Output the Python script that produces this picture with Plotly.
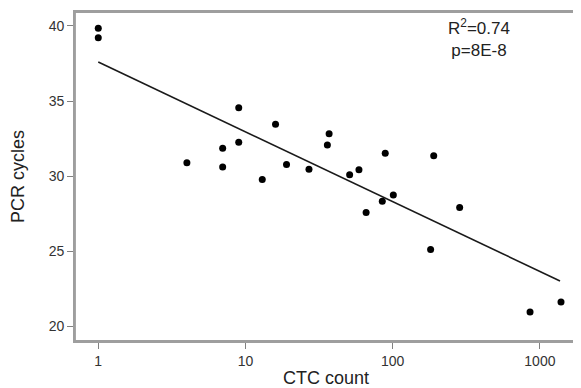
import plotly.graph_objects as go

ctc_count = [1, 1, 4, 7, 7, 9, 9, 13, 16, 19, 27, 36, 37, 51, 59, 66, 85, 89, 101, 181, 190, 285, 857, 1391]
pcr_cycles = [39.85, 39.22, 30.89, 31.85, 30.6, 34.55, 32.25, 29.78, 33.45, 30.78, 30.45, 32.07, 32.82,
              30.09, 30.42, 27.58, 28.33, 31.53, 28.75, 25.11, 31.35, 27.91, 20.95, 21.62]

fit_x = [1, 1370]
fit_y = [37.6, 23.02]

x_ticks = [1, 10, 100, 1000]
x_tick_labels = ["1", "10", "100", "1000"]
y_ticks = [20, 25, 30, 35, 40]

stats_text = "R<sup>2</sup>=0.74<br>p=8E-8"

FONT = "Liberation Sans, Arial, sans-serif"
FRAME = "#9e9e9e"

fig = go.Figure()
fig.add_trace(go.Scatter(x=fit_x, y=fit_y, mode="lines",
                         line=dict(color="#1a1a1a", width=1.6), showlegend=False))
fig.add_trace(go.Scatter(x=ctc_count, y=pcr_cycles, mode="markers",
                         marker=dict(color="black", size=7), showlegend=False))

fig.add_annotation(x=0.805, y=0.92, xref="paper", yref="paper", text=stats_text,
                   showarrow=False, align="center", xanchor="center", yanchor="middle",
                   font=dict(family=FONT, size=17, color="#222"))

# plot frame drawn as four domain-referenced lines
for x0, y0, x1, y1 in [(0, 0, 1, 0), (0, 1, 1, 1), (0, 0, 0, 1), (1, 0, 1, 1)]:
    fig.add_shape(type="line", xref="x domain", yref="y domain", x0=x0, y0=y0, x1=x1, y1=y1,
                  line=dict(color=FRAME, width=1.8), layer="above")

axis_common = dict(showgrid=False, zeroline=False, showline=True, linecolor=FRAME,
                   linewidth=1.6, mirror=True, ticks="outside", ticklen=6, tickcolor="#808080",
                   tickwidth=1.4, automargin=False,
                   tickfont=dict(family=FONT, size=14, color="#333"))

fig.update_xaxes(type="log", range=[-0.158, 3.252], tickvals=x_ticks, ticktext=x_tick_labels,
                 title=dict(text="CTC count", standoff=8,
                            font=dict(family=FONT, size=18, color="#222")),
                 **axis_common)
fig.update_yaxes(range=[19.02, 40.93], tickvals=y_ticks,
                 title=dict(text="PCR cycles", standoff=22,
                            font=dict(family=FONT, size=18, color="#222")),
                 **axis_common)

# page body has an 8px default margin, so the figure is 8px smaller and offset
fig.update_layout(width=573, height=380, margin=dict(l=67, r=4, t=4, b=47, autoexpand=False),
                  plot_bgcolor="white", paper_bgcolor="white")

fig.write_html("out.html")
